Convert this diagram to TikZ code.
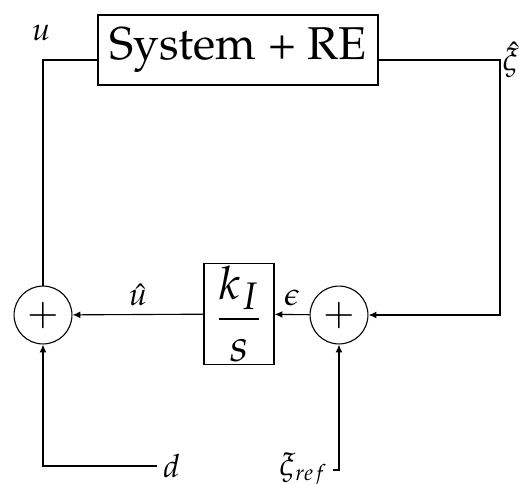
\documentclass[tikz,border=0pt]{standalone}
\usepackage[T1]{fontenc}
\usepackage{mathpazo}
\usetikzlibrary{arrows.meta,positioning,calc}

\begin{document}
\begin{tikzpicture}[semithick,every node/.style={font=\LARGE},
  sumnode/.style={draw,circle,minimum size=1.1cm,inner sep=0pt,font=\huge},
  blocknode/.style={draw,inner sep=2pt},
  sig/.style={-{Latex[length=1.5mm,width=1.3mm]}}]
  \useasboundingbox (0,0) rectangle (10.032,9.177);
  \node[blocknode,minimum width=5.32cm,minimum height=1.33cm,font=\Huge] (sys) at (4.522,8.227) {System + RE};
  \node[sumnode] (sumu) at (0.817,3.192) {$+$};
  \node[sumnode] (sume) at (6.441,3.192) {$+$};
  \node[blocknode,minimum width=1.33cm,minimum height=1.86cm,inner sep=1pt,font=\Huge] (ki) at (4.541,3.211) {$\displaystyle\frac{k_I}{s}$};
  \coordinate (cu) at (0.817,8.037);
  \coordinate (cx) at (9.5,8.037);
  \coordinate (dend) at (2.983,0.323);
  \coordinate (rend) at (6.327,0.247);
  \node[above=0.36cm of cu,xshift=-1pt,inner sep=0pt] (lu) {$u$};
  \node[right=1pt of cx,inner sep=0pt] (lx) {$\hat\xi$};
  \node[right=3pt of dend,inner sep=0pt] (ld) {$d$};
  \node[left=3pt of rend,inner sep=0pt] (lr) {$\xi_{ref}$};
  % loop
  \draw (sys.west |- cu) -- (cu) -- (sumu);
  \draw[sig] (sys.east |- cx) -- (cx) -- (cx |- sume) -- (sume);
  \draw[sig] (sume) -- node[above=1pt] {$\epsilon$} (ki);
  \draw[sig] (ki) -- node[above=1pt] {$\hat u$} (sumu);
  % inputs
  \draw[sig] (dend) -- (sumu |- dend) -- (sumu);
  \draw[sig] (rend) -- (sume |- rend) -- (sume);
\end{tikzpicture}
\end{document}
